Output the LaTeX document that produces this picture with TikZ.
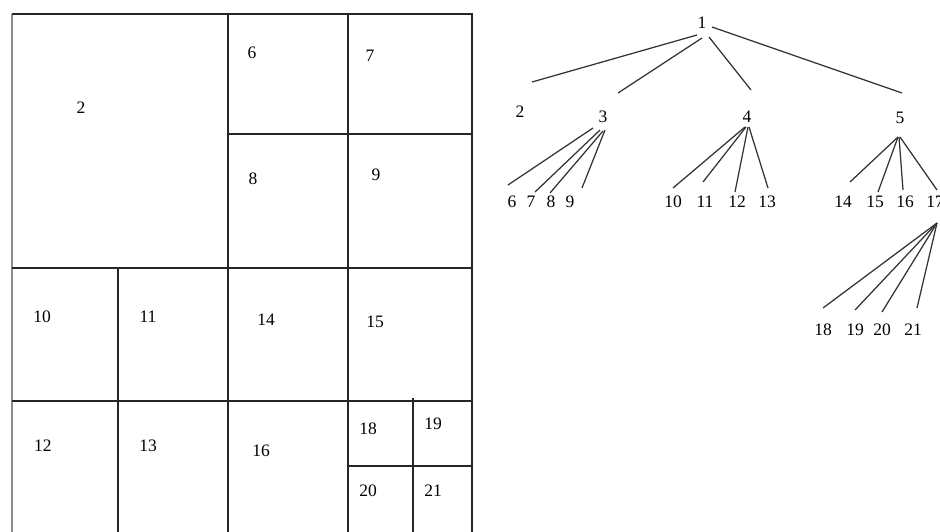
\documentclass[tikz,border=0pt]{standalone}
\usepackage{fontspec}
\setmainfont{Liberation Serif}
\begin{document}
\begin{tikzpicture}[x=1pt,y=-1pt,
  lbl/.style={inner sep=0pt,font=\fontsize{17.5}{19}\selectfont},
  grid/.style={line width=1.6pt,draw=black!85},
  edge/.style={line width=1.25pt,draw=black!80}]
\useasboundingbox (0,0) rectangle (940,531);
% ---- partition plan ----
\draw[grid,draw=black!45,line width=2pt] (12,14) -- (12,533);
\draw[grid] (12,14) -- (472,14) -- (472,533);
\draw[grid] (228,14) -- (228,533);
\draw[grid] (348,14) -- (348,533);
\draw[grid] (118,268) -- (118,533);
\draw[grid] (413,398) -- (413,533);
\draw[grid] (228,134) -- (472,134);
\draw[grid] (12,268) -- (472,268);
\draw[grid] (12,401) -- (472,401);
\draw[grid] (348,466) -- (472,466);
\node[lbl] (g2) at (81,108) {2};
\node[lbl] (g6) at (252,53) {6};
\node[lbl] (g7) at (370,56) {7};
\node[lbl] (g8) at (253,179) {8};
\node[lbl] (g9) at (376,175) {9};
\node[lbl] (g10) at (42,317) {10};
\node[lbl] (g11) at (148,317) {11};
\node[lbl] (g14) at (266,320) {14};
\node[lbl] (g15) at (375,322) {15};
\node[lbl] (g12) at (43,446) {12};
\node[lbl] (g13) at (148,446) {13};
\node[lbl] (g16) at (261,451) {16};
\node[lbl] (g18) at (368,429) {18};
\node[lbl] (g19) at (433,424) {19};
\node[lbl] (g20) at (368,491) {20};
\node[lbl] (g21) at (433,491) {21};
% ---- tree ----
\node[lbl] (t1) at (702,23) {1};
\node[lbl] (t2) at (520,112) {2};
\node[lbl] (t3) at (603,117) {3};
\node[lbl] (t4) at (747,117) {4};
\node[lbl] (t5) at (900,118) {5};
\node[lbl] (t6) at (512,202) {6};
\node[lbl] (t7) at (531,202) {7};
\node[lbl] (t8) at (551,202) {8};
\node[lbl] (t9) at (570,202) {9};
\node[lbl] (t10) at (673,202) {10};
\node[lbl] (t11) at (705,202) {11};
\node[lbl] (t12) at (737,202) {12};
\node[lbl] (t13) at (767,202) {13};
\node[lbl] (t14) at (843,202) {14};
\node[lbl] (t15) at (875,202) {15};
\node[lbl] (t16) at (905,202) {16};
\node[lbl] (t17) at (935,202) {17};
\node[lbl] (t18) at (823,330) {18};
\node[lbl] (t19) at (855,330) {19};
\node[lbl] (t20) at (882,330) {20};
\node[lbl] (t21) at (913,330) {21};
% edges from 1
\draw[edge] ([shift={(-5,12)}]t1.center) -- ([shift={(12,-30)}]t2.center);
\draw[edge] ([shift={(0,15)}]t1.center) -- ([shift={(15,-24)}]t3.center);
\draw[edge] ([shift={(7,14)}]t1.center) -- ([shift={(4,-27)}]t4.center);
\draw[edge] ([shift={(10,4)}]t1.center) -- ([shift={(2,-25)}]t5.center);
% edges from 3
\draw[edge] ([shift={(-10,11)}]t3.center) -- ([shift={(-4,-17)}]t6.center);
\draw[edge] ([shift={(-3,13)}]t3.center) -- ([shift={(4,-10)}]t7.center);
\draw[edge] ([shift={(0,14)}]t3.center) -- ([shift={(-1,-9)}]t8.center);
\draw[edge] ([shift={(2,13)}]t3.center) -- ([shift={(12,-14)}]t9.center);
% edges from 4
\draw[edge] ([shift={(-2,10)}]t4.center) -- ([shift={(0,-14)}]t10.center);
\draw[edge] ([shift={(-1,10)}]t4.center) -- ([shift={(-2,-20)}]t11.center);
\draw[edge] ([shift={(1,10)}]t4.center) -- ([shift={(-2,-10)}]t12.center);
\draw[edge] ([shift={(2,10)}]t4.center) -- ([shift={(1,-14)}]t13.center);
% edges from 5
\draw[edge] ([shift={(-2,19)}]t5.center) -- ([shift={(7,-20)}]t14.center);
\draw[edge] ([shift={(-2,19)}]t5.center) -- ([shift={(3,-10)}]t15.center);
\draw[edge] ([shift={(-1,19)}]t5.center) -- ([shift={(-2,-12)}]t16.center);
\draw[edge] ([shift={(0,19)}]t5.center) -- ([shift={(2,-12)}]t17.center);
% edges from 17
\draw[edge] ([shift={(2,21)}]t17.center) -- ([shift={(0,-22)}]t18.center);
\draw[edge] ([shift={(2,21)}]t17.center) -- ([shift={(0,-20)}]t19.center);
\draw[edge] ([shift={(2,21)}]t17.center) -- ([shift={(0,-18)}]t20.center);
\draw[edge] ([shift={(2,21)}]t17.center) -- ([shift={(4,-22)}]t21.center);
\end{tikzpicture}
\end{document}
